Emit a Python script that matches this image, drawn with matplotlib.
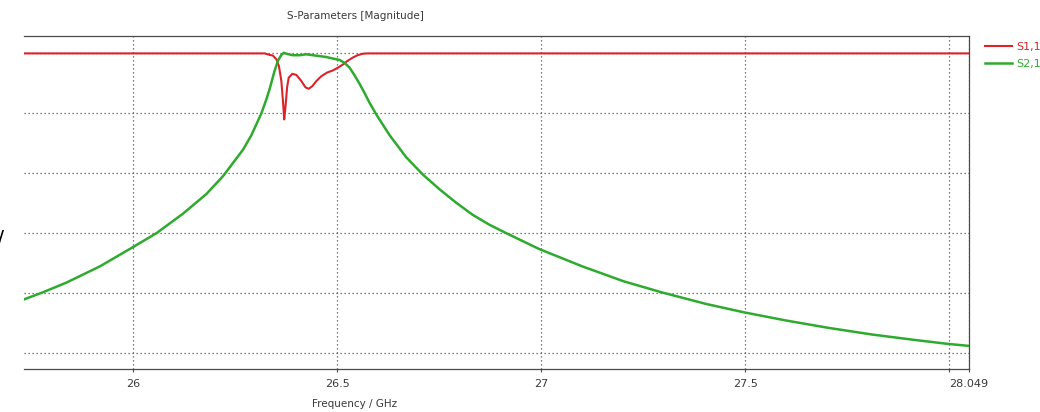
import matplotlib
matplotlib.use("Agg")
import matplotlib.pyplot as plt

# ---- data: linear magnitude of the S-parameters vs frequency (GHz) ----
freq_s11 = [25.732, 26.322, 26.327, 26.334, 26.342, 26.351, 26.357, 26.363,
            26.367, 26.370, 26.373, 26.377, 26.381, 26.390, 26.400, 26.412,
            26.422, 26.430, 26.439, 26.449, 26.461, 26.475, 26.489, 26.501,
            26.514, 26.524, 26.538, 26.550, 26.563, 26.574, 28.049]
mag_s11 = [1.000, 1.000, 0.998, 0.995, 0.993, 0.980, 0.958, 0.908,
           0.841, 0.780, 0.820, 0.886, 0.919, 0.932, 0.928, 0.908,
           0.887, 0.882, 0.891, 0.908, 0.924, 0.936, 0.943, 0.952,
           0.963, 0.974, 0.986, 0.994, 0.999, 1.000, 1.000]

freq_s21 = [25.732, 25.779, 25.836, 25.918, 26.000, 26.057, 26.122, 26.179,
            26.220, 26.269, 26.289, 26.314, 26.326, 26.334, 26.346, 26.355,
            26.363, 26.369, 26.375, 26.381, 26.391, 26.408, 26.424, 26.440,
            26.457, 26.473, 26.489, 26.506, 26.518, 26.530, 26.542, 26.555,
            26.567, 26.579, 26.596, 26.628, 26.669, 26.710, 26.750, 26.791,
            26.832, 26.873, 26.914, 26.995, 27.101, 27.203, 27.297, 27.404,
            27.497, 27.599, 27.705, 27.811, 27.909, 27.995, 28.049]
mag_s21 = [0.180, 0.204, 0.236, 0.290, 0.355, 0.401, 0.466, 0.531,
           0.591, 0.679, 0.726, 0.800, 0.846, 0.880, 0.940, 0.977,
           0.995, 1.002, 0.999, 0.997, 0.994, 0.994, 0.997, 0.994,
           0.991, 0.988, 0.983, 0.978, 0.968, 0.953, 0.928, 0.898,
           0.868, 0.836, 0.796, 0.728, 0.654, 0.596, 0.548, 0.503,
           0.462, 0.429, 0.401, 0.348, 0.290, 0.240, 0.203, 0.165,
           0.137, 0.110, 0.085, 0.063, 0.046, 0.032, 0.025]

x_ticks = [26.0, 26.5, 27.0, 27.5, 28.0, 28.049]
x_tick_labels = ["26", "26.5", "27", "27.5", "", "28.049"]
y_grid = [0.0, 0.2, 0.4, 0.6, 0.8, 1.0]
series_labels = ["S1,1", "S2,1"]

title = "S-Parameters [Magnitude]"
x_label = "Frequency / GHz"

# ---- styling ----
RED = "#d9242b"
GREEN = "#2eaa2e"
FRAME = "#4a4a4a"
TEXT = "#3a3a3a"
W, H = 1040, 412

plt.rcParams["font.family"] = ["DejaVu Sans"]

fig = plt.figure(figsize=(W / 100, H / 100), dpi=100)
fig.patch.set_facecolor("white")
ax = fig.add_axes([24 / W, 1 - 369 / H, (969 - 24) / W, (369 - 36) / H])

ax.plot(freq_s11, mag_s11, color=RED, lw=1.5, solid_joinstyle="round",
        label=series_labels[0], zorder=3)
ax.plot(freq_s21, mag_s21, color=GREEN, lw=1.8, solid_joinstyle="round",
        label=series_labels[1], zorder=4)

ax.set_xlim(25.732, 28.049)
ax.set_ylim(-0.052, 1.058)

ax.set_xticks(x_ticks)
ax.set_xticklabels(x_tick_labels)
ax.set_yticks(y_grid)
ax.set_yticklabels([])
ax.tick_params(axis="x", direction="out", length=2.5, width=0.8,
               color=FRAME, pad=5, labelsize=8, labelcolor=TEXT)
ax.tick_params(axis="y", length=0)

ax.grid(True, color="#555555", linestyle=(0, (1, 2.2)), linewidth=0.9, zorder=1)

ax.spines["left"].set_visible(False)
for side in ("top", "bottom", "right"):
    ax.spines[side].set_color(FRAME)
    ax.spines[side].set_linewidth(0.9)

fig.text(355 / W, 1 - 16 / H, title, ha="center", va="center",
         fontsize=7.5, color=TEXT)
fig.text(355 / W, 1 - 404 / H, x_label, ha="center", va="center",
         fontsize=7.5, color=TEXT)

# partial glyph at the left margin
fig.text(-3 / W, 1 - 240 / H, "/", ha="left", va="center", fontsize=15,
         color="black")

leg = ax.legend(loc="upper left", bbox_to_anchor=(985 / W, 1 - 42 / H),
                bbox_transform=fig.transFigure, frameon=False, fontsize=8,
                handlelength=2.4, handletextpad=0.45, labelspacing=0.6,
                borderpad=0, borderaxespad=0, labelcolor="linecolor")

fig.savefig("out.png", dpi=100, facecolor="white")
